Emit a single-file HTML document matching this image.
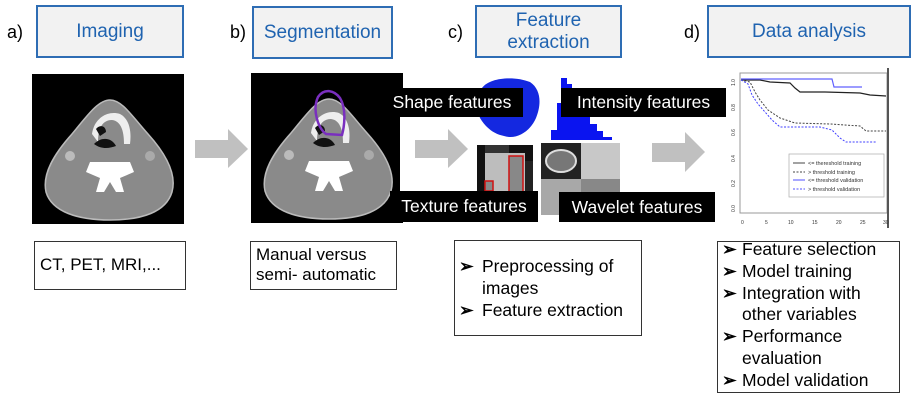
<!DOCTYPE html>
<html><head><meta charset="utf-8"><style>
html,body{margin:0;padding:0;background:#fff;}
body{width:917px;height:401px;position:relative;overflow:hidden;font-family:"Liberation Sans",Arial,sans-serif;}
.abs{position:absolute;}
.hdr{position:absolute;box-sizing:border-box;border:2.5px solid #2e6db4;background:#f2f2f2;color:#1f63b0;font-size:19px;text-align:center;display:flex;align-items:center;justify-content:center;line-height:22px;}
.lbl{position:absolute;font-size:18px;color:#000;}
.box{position:absolute;box-sizing:border-box;border:1.5px solid #333;font-size:17px;color:#000;line-height:20px;}
.blk{position:absolute;background:#000;color:#fff;font-size:17.5px;display:flex;align-items:center;justify-content:center;}
ul{margin:0;padding:0;list-style:none;}
li{position:relative;padding-left:27px;}
li:before{content:"➢";position:absolute;left:4px;color:#000;font-weight:bold;}
</style></head><body>
<div class="lbl" style="left:7px;top:22px">a)</div>
<div class="hdr" style="left:36px;top:5px;width:148px;height:53px">Imaging</div>
<div class="lbl" style="left:230px;top:22px">b)</div>
<div class="hdr" style="left:252px;top:6px;width:141px;height:53px">Segmentation</div>
<div class="lbl" style="left:448px;top:22px">c)</div>
<div class="hdr" style="left:475px;top:5px;width:147px;height:53px">Feature<br>extraction</div>
<div class="lbl" style="left:684px;top:22px">d)</div>
<div class="hdr" style="left:707px;top:5px;width:204px;height:53px">Data analysis</div>

<svg class="abs" style="left:0;top:0" width="917" height="401">
<defs>
<g id="ct">
<rect x="0" y="0" width="152" height="150" fill="#000"/>
<path d="M14,118 C10,100 22,80 40,60 C55,42 66,26 78,26 C90,26 100,42 116,60 C134,80 145,100 140,118 C134,138 110,146 78,146 C46,146 20,138 14,118Z" fill="#8a8a8a" stroke="#bbb" stroke-width="1.5"/>
<path d="M60,60 C62,45 75,36 88,40 C96,44 100,55 98,70 L92,70 C92,55 88,47 80,46 C70,46 66,55 66,68Z" fill="#eee"/>
<path d="M64,55 C68,50 74,52 74,58 L68,62Z M62,70 C70,62 80,64 84,72 C78,74 70,76 62,70Z" fill="#111"/>
<path d="M58,88 L98,88 L102,98 L88,104 L92,118 L84,118 L78,108 L72,118 L64,118 L68,104 L54,98Z" fill="#fff"/>
<circle cx="38" cy="82" r="5" fill="#bbb"/><circle cx="118" cy="82" r="5" fill="#aaa"/>
</g>
</defs>
<use href="#ct" x="32" y="74"/>
<use href="#ct" x="251" y="73"/>
<rect x="400" y="88" width="75" height="104" fill="#fff"/>
<path d="M318,97 C324,88 334,90 340,98 C346,108 345,124 342,135 L326,134 C318,128 312,110 318,97Z" fill="none" stroke="#7a2fbf" stroke-width="2.5"/>
<g fill="#c0c0c0">
<path d="M195,140 L228,140 L228,129 L248,149 L228,168 L228,158 L195,158Z"/>
<path d="M415,140 L448,140 L448,129 L468,149 L448,168 L448,158 L415,158Z"/>
<path d="M652,143 L685,143 L685,132 L705,152 L685,172 L685,162 L652,162Z"/>
</g>
<path d="M482,88 C490,77 515,76 530,82 C542,90 541,106 536,118 C530,132 516,140 504,136 C494,134 486,128 480,118 C476,108 477,96 482,88Z" fill="#1428e0"/>
<path d="M551,140 L551,130 L557,130 L557,103 L561,103 L561,78 L567,78 L567,84 L572,84 L572,100 L580,100 L580,117 L590,117 L590,124 L597,124 L597,131 L603,131 L603,137 L612,137 L612,140Z" fill="#0a14f0"/>
<rect x="477" y="145" width="56" height="47" fill="#111"/>
<rect x="485" y="153" width="40" height="39" fill="#bdbdbd"/>
<rect x="485" y="145" width="24" height="8" fill="#333"/>
<rect x="509" y="156" width="14" height="36" fill="#888" stroke="#d01010" stroke-width="1.5"/>
<rect x="485" y="181" width="8" height="10" fill="#888" stroke="#d01010" stroke-width="1.5"/>
<rect x="525" y="161" width="8" height="31" fill="#222"/>
<rect x="541" y="143" width="40" height="36" fill="#222"/>
<ellipse cx="561" cy="161" rx="15" ry="11" fill="#777" stroke="#ddd" stroke-width="2"/>
<rect x="581" y="143" width="39" height="36" fill="#c8c8c8"/>
<rect x="541" y="179" width="40" height="36" fill="#a8a8a8"/>
<rect x="581" y="179" width="39" height="36" fill="#888"/>
<rect x="740" y="73" width="147" height="140" fill="#fff" stroke="#999"/>
<line x1="888" y1="68" x2="888" y2="228" stroke="#555" stroke-width="2"/>
<g font-size="5" fill="#333" font-family="Liberation Sans">
<text x="741" y="224">0</text><text x="765" y="224">5</text><text x="788" y="224">10</text><text x="812" y="224">15</text><text x="836" y="224">20</text><text x="860" y="224">25</text><text x="883" y="224">30</text>
</g>
<polyline points="741,80 760,80 770,82 790,83 795,88 800,92 825,92 860,93 870,95 886,96" fill="none" stroke="#222" stroke-width="1.2"/>
<polyline points="741,79 832,79 834,87 862,87" fill="none" stroke="#6060ff" stroke-width="1.2"/>
<polyline points="741,80 750,82 755,92 760,100 768,110 780,118 795,123 830,124 860,126 866,131 886,131" fill="none" stroke="#444" stroke-width="1" stroke-dasharray="2,1.5"/>
<polyline points="741,80 748,84 752,95 758,104 765,112 772,120 780,127 820,127 832,130 840,138 846,142 877,142" fill="none" stroke="#4040ff" stroke-width="1" stroke-dasharray="2,1.5"/>
<rect x="789" y="154" width="95" height="43" fill="#fff" stroke="#aaa" stroke-width="0.7"/>
<g font-size="5.5" fill="#333" font-family="Liberation Sans">
<line x1="793" y1="163" x2="805" y2="163" stroke="#444"/><text x="808" y="165">&lt;= thereshold training</text>
<line x1="793" y1="172" x2="805" y2="172" stroke="#444" stroke-dasharray="2,1.5"/><text x="808" y="174">&gt; threshold training</text>
<line x1="793" y1="180" x2="805" y2="180" stroke="#5050ff"/><text x="808" y="182">&lt;= threshold validation</text>
<line x1="793" y1="189" x2="805" y2="189" stroke="#5050ff" stroke-dasharray="2,1.5"/><text x="808" y="191">&gt; threshold validation</text>
</g>
<g font-size="5" fill="#333" font-family="Liberation Sans">
<text transform="translate(735,80) rotate(-90)" x="-6">1.0</text>
<text transform="translate(735,105) rotate(-90)" x="-6">0.8</text>
<text transform="translate(735,130) rotate(-90)" x="-6">0.6</text>
<text transform="translate(735,156) rotate(-90)" x="-6">0.4</text>
<text transform="translate(735,181) rotate(-90)" x="-6">0.2</text>
<text transform="translate(735,206) rotate(-90)" x="-6">0.0</text>
</g>
</svg>

<div class="blk" style="left:381px;top:88px;width:142px;height:29px">Shape features</div>
<div class="blk" style="left:561px;top:88px;width:165px;height:29px">Intensity features</div>
<div class="blk" style="left:390px;top:191px;width:148px;height:31px">Texture features</div>
<div class="blk" style="left:559px;top:192px;width:156px;height:30px">Wavelet features</div>

<div class="box" style="left:34px;top:241px;width:152px;height:49px;padding:13px 0 0 5px">CT, PET, MRI,...</div>
<div class="box" style="left:250px;top:241px;width:147px;height:49px;padding:3px 0 0 5px">Manual versus<br>semi- automatic</div>
<div class="box" style="left:454px;top:240px;width:188px;height:96px;padding:14px 0 0 0;font-size:17.5px;line-height:22px"><ul><li>Preprocessing of images</li><li>Feature extraction</li></ul></div>
<div class="box" style="left:717px;top:241px;width:183px;height:152px;padding:0;line-height:21.8px;font-size:17.5px"><ul style="margin-top:-3px"><li style="padding-left:24px">Feature selection</li><li style="padding-left:24px">Model training</li><li style="padding-left:24px">Integration with other variables</li><li style="padding-left:24px">Performance evaluation</li><li style="padding-left:24px">Model validation</li></ul></div>
</body></html>
